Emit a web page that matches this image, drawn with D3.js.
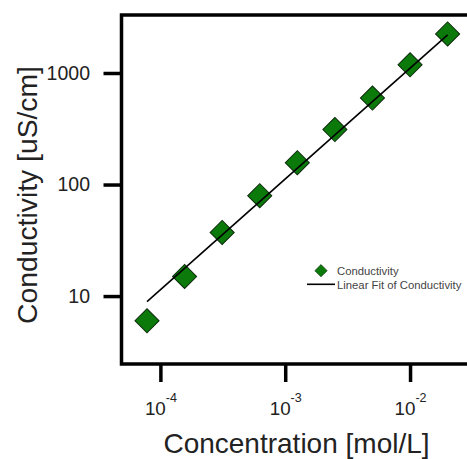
<!DOCTYPE html>
<html>
<head>
<meta charset="utf-8">
<script src="https://cdn.jsdelivr.net/npm/d3@7"></script>
<style>
  html, body { margin: 0; padding: 0; background: #fff; }
  svg { display: block; font-family: "Liberation Sans", Arial, sans-serif; }
</style>
</head>
<body>
<div id="chart"></div>
<script>
const concentration = [7.8125e-5, 1.5625e-4, 3.125e-4, 6.25e-4, 1.25e-3, 2.5e-3, 5e-3, 1e-2, 2e-2];
const conductivity = [6.0, 15.0, 37.2, 79.4, 157, 311, 596, 1184, 2240];
const fitConc = [7.8125e-5, 2e-2];
const fitCond = [8.9, 2200];
const xTicks = [1e-4, 1e-3, 1e-2];
const xTickExp = ["-4", "-3", "-2"];
const yTicks = [10, 100, 1000];
const legendLabels = ["Conductivity", "Linear Fit of Conductivity"];

(function () {
  const W = 467, H = 459;
  const left = 121.5, right = 469.6, top = 15, bottom = 364;

  const svg = d3.select('#chart').append('svg').attr('width', W).attr('height', H);

  const x = d3.scaleLog().domain([4.88e-5, 0.03]).range([left, right]);
  const y = d3.scaleLog().domain([2.46, 3311]).range([bottom, top]);

  // ticks (outward), labels added by hand for the superscripts
  const gx = svg.append('g').attr('transform', `translate(0,${bottom})`)
    .call(d3.axisBottom(x).tickValues(xTicks).tickSize(18).tickFormat(''));
  gx.select('.domain').remove();
  gx.selectAll('.tick line').attr('stroke', '#000').attr('stroke-width', 3.5);
  gx.selectAll('.tick').each(function (d, i) {
    const t = d3.select(this).append('text')
      .attr('y', 415 - bottom).attr('text-anchor', 'middle')
      .attr('fill', '#222').style('font-size', '18.8px');
    t.append('tspan').text('10');
    t.append('tspan').attr('dy', -13).style('font-size', '12.5px').text(xTickExp[i]);
  });

  const gy = svg.append('g').attr('transform', `translate(${left},0)`)
    .call(d3.axisLeft(y).tickValues(yTicks).tickSize(18).tickPadding(13.5).tickFormat(d3.format('d')));
  gy.select('.domain').remove();
  gy.selectAll('.tick line').attr('stroke', '#000').attr('stroke-width', 3.5);
  gy.selectAll('.tick text').attr('fill', '#222').style('font-size', '19.5px');

  // frame
  svg.append('rect')
    .attr('x', left).attr('y', top)
    .attr('width', right - left).attr('height', bottom - top)
    .attr('fill', 'none').attr('stroke', '#000').attr('stroke-width', 3.5);

  const pts = concentration.map((c, i) => ({ c, v: conductivity[i] }));
  const diamond = d3.symbol(d3.symbolSquare, 290);
  svg.append('g').selectAll('path').data(pts).join('path')
    .attr('d', diamond)
    .attr('transform', d => `translate(${x(d.c)},${y(d.v)}) rotate(45)`)
    .attr('fill', '#0b7a0b').attr('stroke', '#0a2a0a').attr('stroke-width', 1);

  const fit = fitConc.map((c, i) => ({ c, v: fitCond[i] }));
  svg.append('path').datum(fit)
    .attr('d', d3.line().x(d => x(d.c)).y(d => y(d.v)))
    .attr('fill', 'none').attr('stroke', '#000').attr('stroke-width', 1.6);

  // legend
  const lg = svg.append('g').style('font-size', '11.3px').attr('fill', '#444');
  lg.append('path').attr('d', d3.symbol(d3.symbolSquare, 76))
    .attr('transform', 'translate(321,270.7) rotate(45)')
    .attr('fill', '#0b7a0b').attr('stroke', '#0a2a0a').attr('stroke-width', 0.6);
  lg.append('text').attr('x', 337).attr('y', 274.8).text(legendLabels[0]);
  lg.append('line').attr('x1', 307).attr('x2', 335).attr('y1', 284.3).attr('y2', 284.3)
    .attr('stroke', '#000').attr('stroke-width', 1.6);
  lg.append('text').attr('x', 337).attr('y', 288.6).text(legendLabels[1]);

  // axis titles
  svg.append('text').attr('x', 296.5).attr('y', 452.5).attr('text-anchor', 'middle')
    .attr('fill', '#222').style('font-size', '28px').text('Concentration [mol/L]');
  svg.append('text').attr('transform', 'translate(36.5,195) rotate(-90)').attr('text-anchor', 'middle')
    .attr('fill', '#222').style('font-size', '28.3px').text('Conductivity [uS/cm]');
})();
</script>
</body>
</html>
